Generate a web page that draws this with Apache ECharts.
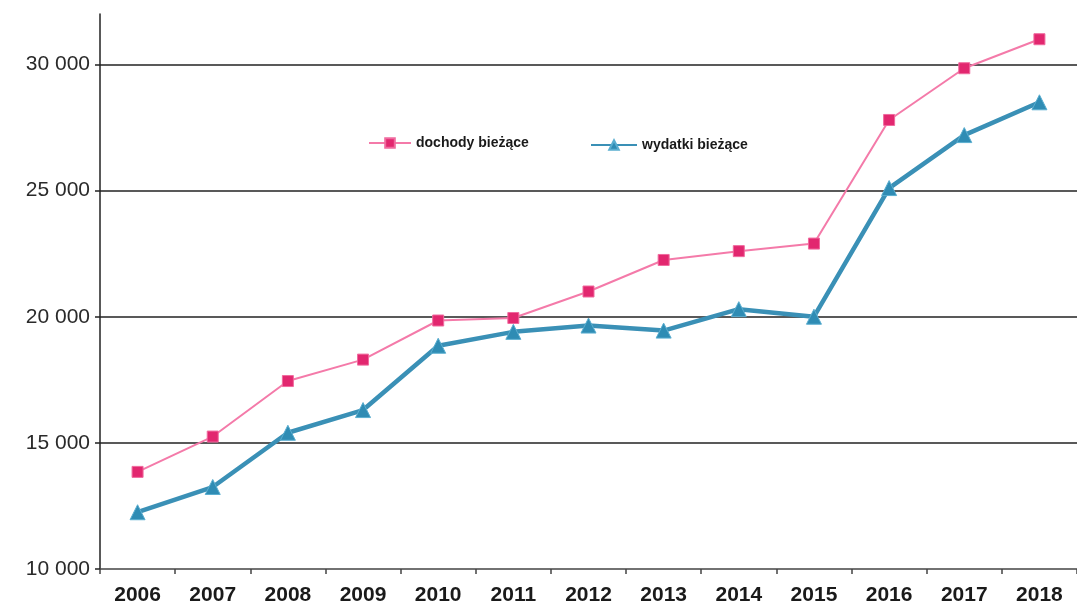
<!DOCTYPE html>
<html>
<head>
<meta charset="utf-8">
<script src="https://cdn.jsdelivr.net/npm/echarts@6/dist/echarts.min.js"></script>
<style>
html,body{margin:0;padding:0;background:#fff;}
#chart{width:1077px;height:609px;}
</style>
</head>
<body>
<div id="chart"></div>
<script>
var years = ['2006','2007','2008','2009','2010','2011','2012','2013','2014','2015','2016','2017','2018'];
var dochody = [13850, 15250, 17450, 18300, 19850, 19950, 21000, 22250, 22600, 22900, 27800, 29850, 31000];
var wydatki = [12250, 13250, 15400, 16300, 18850, 19400, 19650, 19450, 20300, 20000, 25100, 27200, 28500];
var yTicks = [10000, 15000, 20000, 25000, 30000];
var seriesNames = ['dochody bieżące', 'wydatki bieżące'];

function fmt(v){ return String(v).replace(/\B(?=(\d{3})+(?!\d))/g, ' '); }

var chart = echarts.init(document.getElementById('chart'), null, {renderer:'canvas'});
chart.setOption({
  animation:false,
  backgroundColor:'#fff',
  textStyle:{fontFamily:'Liberation Sans, Arial, sans-serif'},
  grid:{left:100, right:-6, top:14, bottom:40, containLabel:false},
  legend:[
    {data:[seriesNames[0]], left:363, top:131, itemWidth:42, itemHeight:12,
     textStyle:{fontSize:14, fontWeight:'bold', color:'#1a1a1a'}},
    {data:[seriesNames[1]], left:585, top:133, itemWidth:46, itemHeight:12,
     textStyle:{fontSize:14, fontWeight:'bold', color:'#1a1a1a'}}
  ],
  xAxis:{
    type:'category', data:years, boundaryGap:true,
    axisLine:{lineStyle:{color:'#444', width:1.5}},
    axisTick:{show:true, length:5, inside:false, lineStyle:{color:'#444', width:1.5}},
    axisLabel:{fontSize:21, fontWeight:'bold', color:'#1a1a1a', margin:16},
    splitLine:{show:false}
  },
  yAxis:{
    type:'value', min:10000, max:32000, interval:5000,
    axisLine:{show:true, lineStyle:{color:'#222', width:1.5}},
    axisTick:{show:true, length:5, customValues:yTicks, lineStyle:{color:'#222', width:1.5}},
    axisLabel:{fontSize:21, color:'#2a2a2a', margin:10, customValues:yTicks,
      formatter:function(v){ return yTicks.indexOf(v) >= 0 ? fmt(v) : ''; }},
    splitLine:{show:true, showMinLine:false, lineStyle:{color:'#222', width:1.5}}
  },
  series:[
    {name:seriesNames[0], type:'line', data:dochody,
     symbol:'rect', symbolSize:11,
     lineStyle:{color:'#f47aa9', width:2},
     itemStyle:{color:'#e2276f', borderColor:'#f06a9e', borderWidth:1},
     z:3},
    {name:seriesNames[1], type:'line', data:wydatki,
     symbol:'triangle', symbolSize:15,
     lineStyle:{color:'#3a90b6', width:4.5},
     itemStyle:{color:'#2f8cb4', borderColor:'#5aaed0', borderWidth:1},
     z:4}
  ]
});
</script>
</body>
</html>
